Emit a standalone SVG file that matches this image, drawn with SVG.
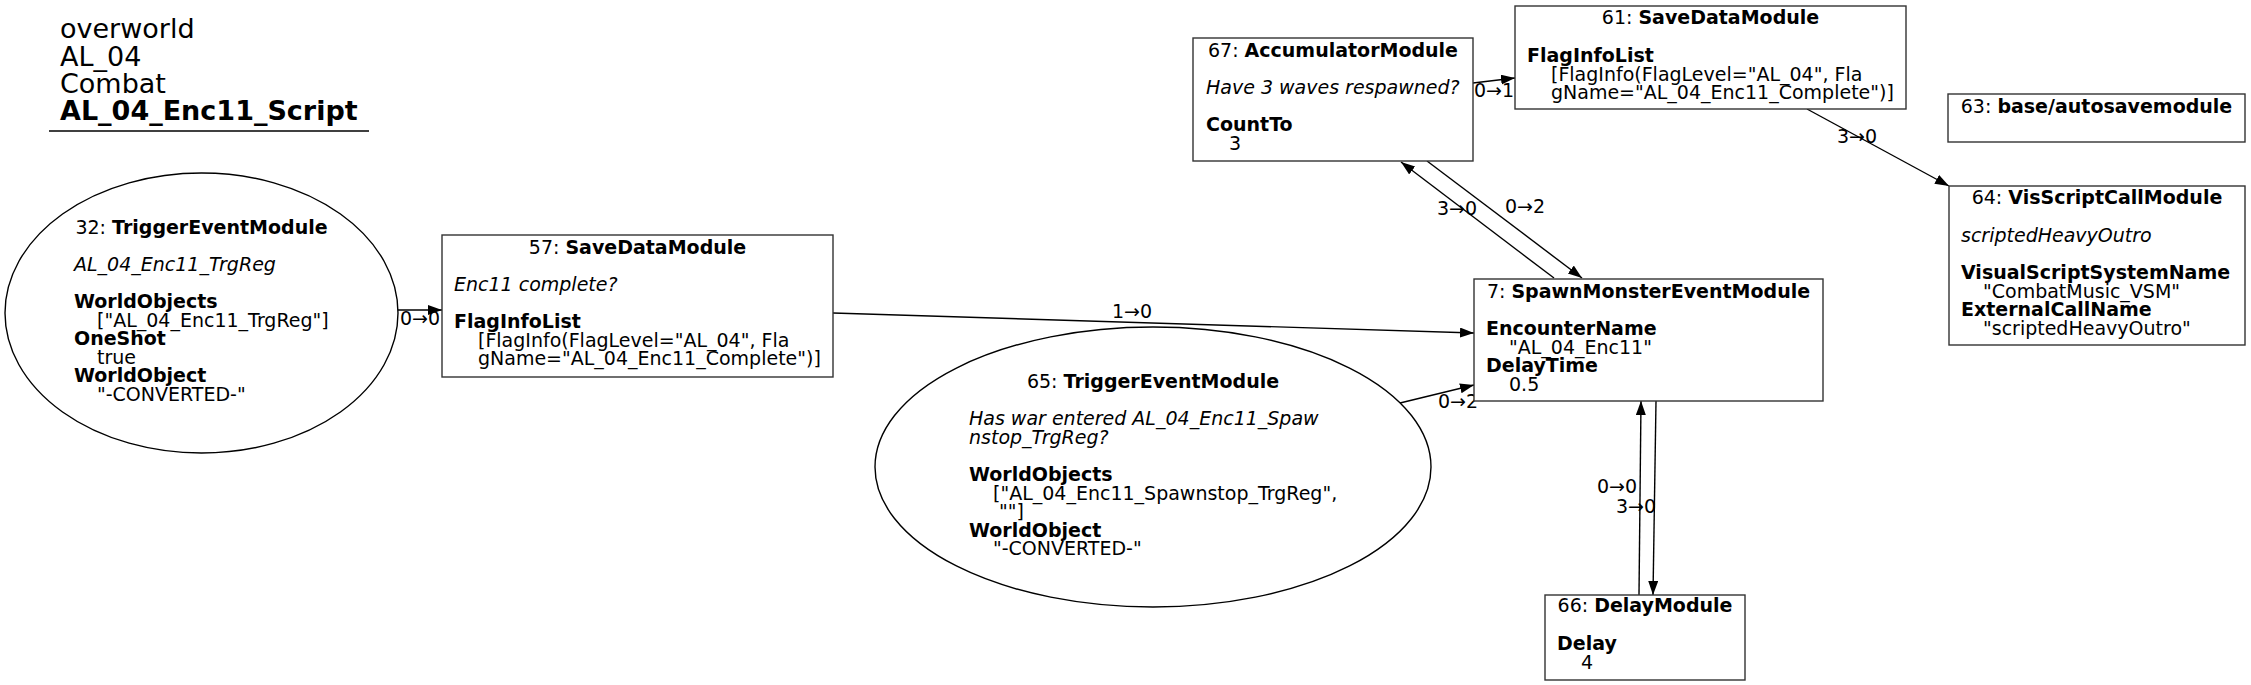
<svg xmlns="http://www.w3.org/2000/svg" width="2251" height="685" viewBox="0 0 2251 685">
<style>
text{font-family:"DejaVu Sans","Liberation Sans",sans-serif;font-size:19px;fill:#000}
.ttl{font-size:27px}
.b{font-weight:bold}
.i{font-style:italic}
.c{text-anchor:middle}
.box{fill:#fff;stroke:#333;stroke-width:1.4}
.ell{fill:#fff;stroke:#000;stroke-width:1.4}
.edge{fill:none;stroke:#000;stroke-width:1.4}
</style>
<defs>
<marker id="arr" markerUnits="userSpaceOnUse" markerWidth="15" markerHeight="11" refX="14" refY="5" orient="auto">
<path d="M0,0 L14,5 L0,10 Z" fill="#000"/>
</marker>
</defs>
<rect width="2251" height="685" fill="#fff"/>
<g id="title">
<text class="ttl" x="60" y="38">overworld</text>
<text class="ttl" x="60" y="65.5">AL_04</text>
<text class="ttl" x="60" y="92.5">Combat</text>
<text class="ttl b" x="60" y="120">AL_04_Enc11_Script</text>
<line x1="49" y1="131" x2="369" y2="131" stroke="#000" stroke-width="1.4"/>
</g>
<g id="connectors">
<line class="edge" x1="398" y1="310" x2="442" y2="310" marker-end="url(#arr)"/>
<text x="400" y="325">0→0</text>
<line class="edge" x1="833" y1="313" x2="1474" y2="333" marker-end="url(#arr)"/>
<text x="1112" y="318">1→0</text>
<line class="edge" x1="1400" y1="403" x2="1474" y2="385" marker-end="url(#arr)"/>
<text x="1438" y="408">0→2</text>
<line class="edge" x1="1473" y1="83" x2="1515" y2="78" marker-end="url(#arr)"/>
<text x="1474" y="97">0→1</text>
<line class="edge" x1="1807" y1="109" x2="1949" y2="186" marker-end="url(#arr)"/>
<text x="1837" y="143">3→0</text>
<line class="edge" x1="1427" y1="161" x2="1582" y2="278" marker-end="url(#arr)"/>
<text x="1505" y="213">0→2</text>
<line class="edge" x1="1554" y1="278" x2="1401" y2="162" marker-end="url(#arr)"/>
<text x="1437" y="215">3→0</text>
<line class="edge" x1="1656" y1="401" x2="1653" y2="595" marker-end="url(#arr)"/>
<text x="1616" y="513">3→0</text>
<line class="edge" x1="1639" y1="595" x2="1641" y2="401" marker-end="url(#arr)"/>
<text x="1597" y="493">0→0</text>
</g>
<g id="node32">
<ellipse class="ell" cx="201.5" cy="313" rx="196.5" ry="140"/>
<text class="c" x="201.5" y="234">32: <tspan class="b">TriggerEventModule</tspan></text>
<text class="i" x="74" y="271">AL_04_Enc11_TrgReg</text>
<text class="b" x="74" y="308">WorldObjects</text>
<text x="97" y="326.5">["AL_04_Enc11_TrgReg"]</text>
<text class="b" x="74" y="345">OneShot</text>
<text x="97" y="363.5">true</text>
<text class="b" x="74" y="382">WorldObject</text>
<text x="97" y="400.5">"-CONVERTED-"</text>
</g>
<g id="node57">
<rect class="box" x="442" y="235" width="391" height="142"/>
<text class="c" x="637.5" y="254">57: <tspan class="b">SaveDataModule</tspan></text>
<text class="i" x="454" y="291">Enc11 complete?</text>
<text class="b" x="454" y="328">FlagInfoList</text>
<text x="478" y="346.5">[FlagInfo(FlagLevel="AL_04", Fla</text>
<text x="478" y="365">gName="AL_04_Enc11_Complete")]</text>
</g>
<g id="node65">
<ellipse class="ell" cx="1153" cy="467" rx="278" ry="140"/>
<text class="c" x="1153" y="388">65: <tspan class="b">TriggerEventModule</tspan></text>
<text class="i" x="969" y="425">Has war entered AL_04_Enc11_Spaw</text>
<text class="i" x="969" y="443.5">nstop_TrgReg?</text>
<text class="b" x="969" y="481">WorldObjects</text>
<text x="993" y="499.5">["AL_04_Enc11_Spawnstop_TrgReg",</text>
<text x="999" y="518">""]</text>
<text class="b" x="969" y="536.5">WorldObject</text>
<text x="993" y="555">"-CONVERTED-"</text>
</g>
<g id="node67">
<rect class="box" x="1193" y="38" width="280" height="123"/>
<text class="c" x="1333" y="57">67: <tspan class="b">AccumulatorModule</tspan></text>
<text class="i" x="1206" y="94">Have 3 waves respawned?</text>
<text class="b" x="1206" y="131">CountTo</text>
<text x="1229" y="149.5">3</text>
</g>
<g id="node61">
<rect class="box" x="1515" y="6" width="391" height="103"/>
<text class="c" x="1710.5" y="24">61: <tspan class="b">SaveDataModule</tspan></text>
<text class="b" x="1527" y="62">FlagInfoList</text>
<text x="1551" y="80.5">[FlagInfo(FlagLevel="AL_04", Fla</text>
<text x="1551" y="99">gName="AL_04_Enc11_Complete")]</text>
</g>
<g id="node63">
<rect class="box" x="1948" y="94" width="297" height="48"/>
<text class="c" x="2096.5" y="113">63: <tspan class="b">base/autosavemodule</tspan></text>
</g>
<g id="node64">
<rect class="box" x="1949" y="186" width="296" height="159"/>
<text class="c" x="2097" y="204">64: <tspan class="b">VisScriptCallModule</tspan></text>
<text class="i" x="1961" y="242">scriptedHeavyOutro</text>
<text class="b" x="1961" y="279">VisualScriptSystemName</text>
<text x="1983" y="297.5">"CombatMusic_VSM"</text>
<text class="b" x="1961" y="316">ExternalCallName</text>
<text x="1983" y="334.5">"scriptedHeavyOutro"</text>
</g>
<g id="node7">
<rect class="box" x="1474" y="279" width="349" height="122"/>
<text class="c" x="1648.5" y="298">7: <tspan class="b">SpawnMonsterEventModule</tspan></text>
<text class="b" x="1486" y="335">EncounterName</text>
<text x="1509" y="353.5">"AL_04_Enc11"</text>
<text class="b" x="1486" y="372">DelayTime</text>
<text x="1509" y="390.5">0.5</text>
</g>
<g id="node66">
<rect class="box" x="1545" y="595" width="200" height="85"/>
<text class="c" x="1645" y="612">66: <tspan class="b">DelayModule</tspan></text>
<text class="b" x="1557" y="650">Delay</text>
<text x="1581" y="668.5">4</text>
</g>
</svg>
